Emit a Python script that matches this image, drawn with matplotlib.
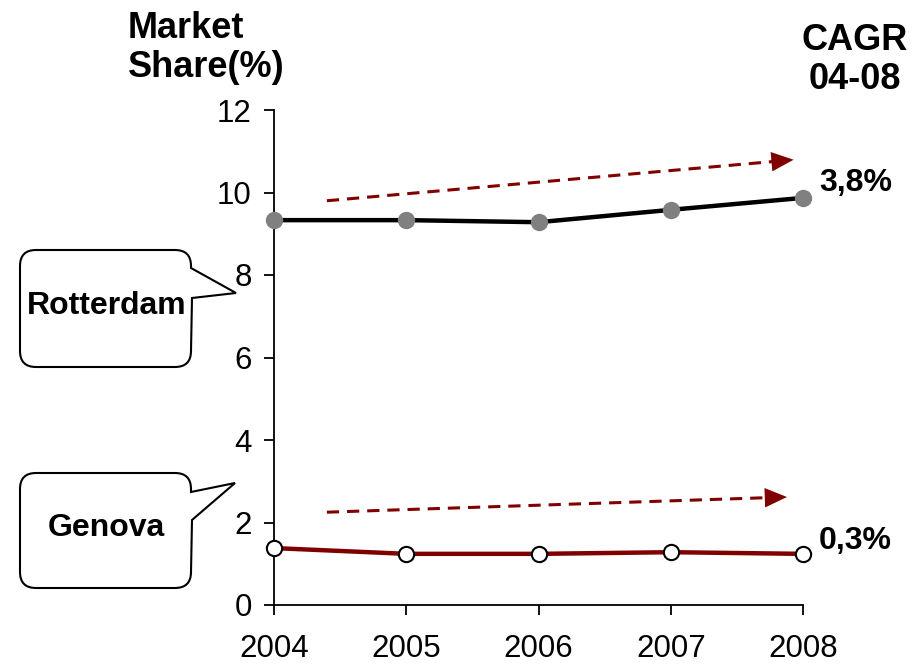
import matplotlib.pyplot as plt
from matplotlib.path import Path
from matplotlib.patches import PathPatch
from matplotlib.transforms import Affine2D

years = [2004, 2005, 2006, 2007, 2008]
rotterdam = [9.33, 9.33, 9.28, 9.58, 9.87]
genova = [1.38, 1.24, 1.24, 1.28, 1.24]
cagr_labels = ["3,8%", "0,3%"]
# trend arrows (start, end) in data units
rotterdam_trend = [(2004.4, 9.8), (2007.95, 10.8)]
genova_trend = [(2004.4, 2.25), (2007.9, 2.62)]

DARK_RED = "#800000"
plt.rcParams["font.family"] = ["Liberation Sans", "DejaVu Sans"]

W, H = 922, 665
fig = plt.figure(figsize=(W / 100, H / 100), dpi=100)
ax = fig.add_axes([274 / W, 1 - 605 / H, (803 - 274) / W, (605 - 110) / H])

ax.plot(years, rotterdam, color="black", lw=3.2, marker="o", ms=11.5,
        mfc="#808080", mec="#808080", clip_on=False, zorder=3)
ax.plot(years, genova, color=DARK_RED, lw=3.2, marker="o", ms=11,
        mfc="white", mec="black", mew=1.5, clip_on=False, zorder=3)


def trend_arrow(start, end):
    (x0, y0), (x1, y1) = start, end
    f = 0.97
    xm, ym = x0 + (x1 - x0) * f, y0 + (y1 - y0) * f
    ax.plot([x0, xm], [y0, ym], color=DARK_RED, lw=2.2, ls=(0, (4, 2.6)),
            clip_on=False)
    ax.annotate("", xy=(x1, y1), xytext=(xm, ym),
                arrowprops=dict(arrowstyle="-|>,head_length=0.8,head_width=0.35",
                                color=DARK_RED, lw=0, mutation_scale=20),
                annotation_clip=False)


trend_arrow(*rotterdam_trend)
trend_arrow(*genova_trend)

ax.set_xlim(2004, 2008)
ax.set_ylim(0, 12)
ax.set_xticks(years)
ax.set_yticks(range(0, 13, 2))
for s in ["top", "right"]:
    ax.spines[s].set_visible(False)
for s in ["left", "bottom"]:
    ax.spines[s].set_linewidth(1.3)
ax.tick_params(labelsize=22.5, length=7, width=1.3, direction="out")
ax.tick_params(axis="x", pad=14)
ax.tick_params(axis="y", pad=9)

ax.text(2008.12, rotterdam[-1] + 0.35, cagr_labels[0], fontsize=23,
        fontweight="bold", va="center", ha="left")
ax.text(2008.12, genova[-1] + 0.3, cagr_labels[1], fontsize=23,
        fontweight="bold", va="center", ha="left")

# pixel-coordinate transform (origin top-left)
px = Affine2D().scale(1 / W, -1 / H).translate(0, 1) + fig.transFigure

fig.text(128, 48, "Market\nShare(%)", transform=px, fontsize=26,
         fontweight="bold", ha="left", va="center", linespacing=1.12)
fig.text(855, 60, "CAGR\n04-08", transform=px, fontsize=26,
         fontweight="bold", ha="center", va="center", linespacing=1.12)


def callout(x0, y0, x1, y1, wedge, label, r=16):
    (wx1, wy1), (tx, ty), (wx2, wy2) = wedge
    verts = [(x0 + r, y0), (x1 - r, y0), (x1, y0), (x1, y0 + r),
             (wx1, wy1), (tx, ty), (wx2, wy2),
             (x1, y1 - r), (x1, y1), (x1 - r, y1),
             (x0 + r, y1), (x0, y1), (x0, y1 - r),
             (x0, y0 + r), (x0, y0), (x0 + r, y0), (x0 + r, y0)]
    codes = [Path.MOVETO, Path.LINETO, Path.CURVE3, Path.CURVE3,
             Path.LINETO, Path.LINETO, Path.LINETO,
             Path.LINETO, Path.CURVE3, Path.CURVE3,
             Path.LINETO, Path.CURVE3, Path.CURVE3,
             Path.LINETO, Path.CURVE3, Path.CURVE3, Path.CLOSEPOLY]
    patch = PathPatch(Path(verts, codes), transform=px, facecolor="white",
                      edgecolor="black", lw=1.5)
    fig.add_artist(patch)
    fig.text((x0 + x1) / 2 + 1, (y0 + y1) / 2 - 2, label, transform=px,
             fontsize=23, fontweight="bold", ha="center", va="center")


callout(20, 250, 191, 367, [(191, 268), (236, 293), (192, 298)], "Rotterdam")
callout(20, 473, 191, 588, [(191, 492), (235, 483), (192, 520)], "Genova")

fig.savefig("out.png", dpi=100)
